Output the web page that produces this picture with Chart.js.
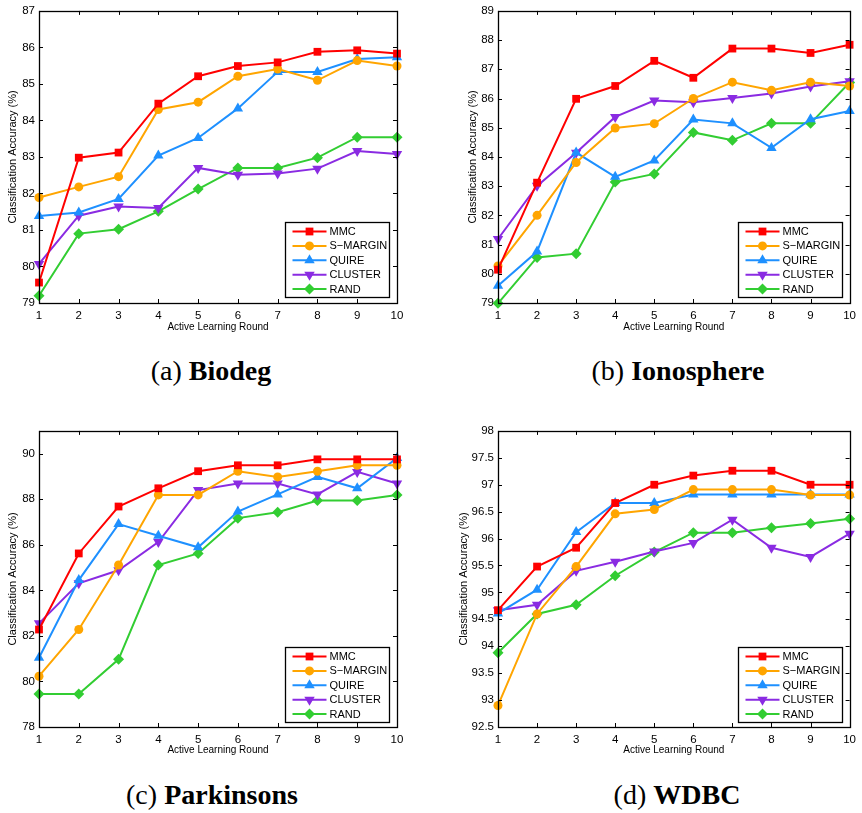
<!DOCTYPE html>
<html>
<head>
<meta charset="utf-8">
<script src="https://cdn.jsdelivr.net/npm/chart.js"></script>
<style>
body { margin:0; background:#fff; width:862px; height:813px; position:relative; overflow:hidden; }
.panel { position:absolute; }
.cap { position:absolute; width:300px; font-family:"Liberation Serif", serif; font-size:28px; line-height:32px; color:#000; text-align:center; white-space:nowrap; }
</style>
</head>
<body>
<div class="panel" style="left:0px;top:0px;width:431px;height:340px"><canvas id="biodeg"></canvas></div>
<div class="panel" style="left:460px;top:0px;width:402px;height:340px"><canvas id="ionosphere"></canvas></div>
<div class="panel" style="left:0px;top:420px;width:431px;height:345px"><canvas id="parkinsons"></canvas></div>
<div class="panel" style="left:450px;top:420px;width:412px;height:345px"><canvas id="wdbc"></canvas></div>

<div class="cap" style="left:61px;top:355px">(a) <b>Biodeg</b></div>
<div class="cap" style="left:528px;top:355px">(b) <b>Ionosphere</b></div>
<div class="cap" style="left:62px;top:779px">(c) <b>Parkinsons</b></div>
<div class="cap" style="left:527px;top:779px">(d) <b>WDBC</b></div>

<script>
const rounds = ['1', '2', '3', '4', '5', '6', '7', '8', '9', '10'];
const methods = ['MMC', 'S\u2212MARGIN', 'QUIRE', 'CLUSTER', 'RAND'];

// (a) Biodeg
const biodegMMC     = [79.56, 82.98, 83.12, 84.46, 85.21, 85.49, 85.59, 85.88, 85.92, 85.83];
const biodegSMargin = [81.89, 82.18, 82.46, 84.30, 84.50, 85.21, 85.41, 85.10, 85.64, 85.49];
const biodegQuire   = [81.38, 81.48, 81.85, 83.04, 83.52, 84.33, 85.33, 85.33, 85.68, 85.73];
const biodegCluster = [80.07, 81.39, 81.64, 81.60, 82.70, 82.51, 82.55, 82.68, 83.16, 83.08];
const biodegRand    = [79.20, 80.90, 81.02, 81.51, 82.12, 82.70, 82.70, 82.98, 83.54, 83.54];
const biodegTicks   = [79, 80, 81, 82, 83, 84, 85, 86, 87];

// (b) Ionosphere
const ionoMMC     = [80.14, 83.12, 85.99, 86.43, 87.29, 86.71, 87.71, 87.71, 87.56, 87.84];
const ionoSMargin = [80.27, 82.00, 83.81, 84.99, 85.14, 86.00, 86.56, 86.28, 86.56, 86.43];
const ionoQuire   = [79.59, 80.76, 84.15, 83.32, 83.88, 85.28, 85.15, 84.31, 85.29, 85.57];
const ionoCluster = [81.19, 83.01, 84.14, 85.37, 85.93, 85.87, 86.02, 86.17, 86.41, 86.59];
const ionoRand    = [78.99, 80.56, 80.69, 83.14, 83.42, 84.84, 84.57, 85.15, 85.15, 86.55];
const ionoTicks   = [79, 80, 81, 82, 83, 84, 85, 86, 87, 88, 89];

// (c) Parkinsons
const parkMMC     = [82.28, 85.62, 87.68, 88.48, 89.23, 89.49, 89.49, 89.75, 89.75, 89.75];
const parkSMargin = [80.23, 82.28, 85.11, 88.19, 88.19, 89.23, 88.98, 89.23, 89.49, 89.49];
const parkQuire   = [81.04, 84.45, 86.91, 86.40, 85.89, 87.46, 88.21, 88.98, 88.48, 89.81];
const parkCluster = [82.55, 84.31, 84.88, 86.12, 88.40, 88.69, 88.69, 88.21, 89.20, 88.69];
const parkRand    = [79.45, 79.45, 80.97, 85.11, 85.62, 87.17, 87.43, 87.94, 87.94, 88.19];
const parkTicks   = [78, 80, 82, 84, 86, 88, 90];

// (d) WDBC
const wdbcMMC     = [94.67, 95.48, 95.83, 96.66, 97.00, 97.17, 97.26, 97.26, 97.00, 97.00];
const wdbcSMargin = [92.90, 94.60, 95.48, 96.46, 96.54, 96.91, 96.91, 96.91, 96.81, 96.81];
const wdbcQuire   = [94.61, 95.05, 96.12, 96.66, 96.66, 96.82, 96.82, 96.82, 96.82, 96.82];
const wdbcCluster = [94.67, 94.77, 95.40, 95.57, 95.76, 95.92, 96.35, 95.83, 95.66, 96.09];
const wdbcRand    = [93.88, 94.60, 94.77, 95.31, 95.75, 96.11, 96.11, 96.20, 96.28, 96.37];
const wdbcTicks   = [92.5, 93, 93.5, 94, 94.5, 95, 95.5, 96, 96.5, 97, 97.5, 98];

const colors = ['#ff0000', '#ffa500', '#1e90ff', '#8a2be2', '#32cd32'];
const styles = [
    {pointStyle: 'rect', radius: 5.5, rotation: 0},
    {pointStyle: 'circle', radius: 4.5, rotation: 0},
    {pointStyle: 'triangle', radius: 6, rotation: 0},
    {pointStyle: 'triangle', radius: 6, rotation: 180},
    {pointStyle: 'rectRot', radius: 5.5, rotation: 0}
];

const sansFont = '"Liberation Sans", Arial, sans-serif';

// draw a marker like the ones chart.js uses
function drawMarker(ctx, st, x, y) {
    let r = st.radius;
    ctx.beginPath();
    if (st.pointStyle == 'rect') {
        let s = r * Math.SQRT1_2;
        ctx.rect(x - s, y - s, 2 * s, 2 * s);
    } else if (st.pointStyle == 'circle') {
        ctx.arc(x, y, r, 0, Math.PI * 2);
    } else if (st.pointStyle == 'triangle') {
        let a = st.rotation * Math.PI / 180;
        for (let k = 0; k < 3; k++) {
            let px = x + Math.sin(a) * r;
            let py = y - Math.cos(a) * r;
            if (k == 0) ctx.moveTo(px, py); else ctx.lineTo(px, py);
            a += Math.PI * 2 / 3;
        }
        ctx.closePath();
    } else {
        ctx.moveTo(x, y - r);
        ctx.lineTo(x + r, y);
        ctx.lineTo(x, y + r);
        ctx.lineTo(x - r, y);
        ctx.closePath();
    }
    ctx.fill();
}

// box round the plot with inward ticks, matlab style
const framePlugin = {
    id: 'frame',
    afterDatasetsDraw(chart) {
        const ctx = chart.ctx;
        const a = chart.chartArea;
        const xs = chart.scales.x;
        const ys = chart.scales.y;
        const tl = 4;
        ctx.save();
        ctx.strokeStyle = '#000';
        ctx.lineWidth = 1;
        ctx.beginPath();
        xs.ticks.forEach(function (t, i) {
            let px = Math.round(xs.getPixelForTick(i)) + 0.5;
            ctx.moveTo(px, a.bottom); ctx.lineTo(px, a.bottom - tl);
            ctx.moveTo(px, a.top); ctx.lineTo(px, a.top + tl);
        });
        ys.ticks.forEach(function (t) {
            let py = Math.round(ys.getPixelForValue(t.value)) + 0.5;
            ctx.moveTo(a.left, py); ctx.lineTo(a.left + tl, py);
            ctx.moveTo(a.right, py); ctx.lineTo(a.right - tl, py);
        });
        ctx.stroke();
        ctx.lineWidth = 1.3;
        ctx.strokeRect(Math.round(a.left) + 0.5, Math.round(a.top) + 0.5,
            Math.round(a.right - a.left), Math.round(a.bottom - a.top));
        ctx.restore();
    },
    afterDraw(chart) {
        // legend box in the lower right corner
        const ctx = chart.ctx;
        const a = chart.chartArea;
        const w = 104, rowH = 14.4;
        const h = 75;
        const bx = Math.round(a.right - 8 - w) + 0.5;
        const by = Math.round(a.bottom - chart.options.legendInset - h) + 0.5;
        ctx.save();
        ctx.fillStyle = '#fff';
        ctx.fillRect(bx, by, w, h);
        ctx.strokeStyle = '#000';
        ctx.lineWidth = 1.3;
        ctx.strokeRect(bx, by, w, h);
        ctx.font = '11px ' + sansFont;
        ctx.textBaseline = 'middle';
        chart.data.datasets.forEach(function (ds, i) {
            let y = by + 9 + i * rowH;
            ctx.strokeStyle = ds.borderColor;
            ctx.lineWidth = 2;
            ctx.beginPath();
            ctx.moveTo(bx + 7, y);
            ctx.lineTo(bx + 41, y);
            ctx.stroke();
            ctx.fillStyle = ds.borderColor;
            drawMarker(ctx, styles[i], bx + 24, y);
            ctx.fillStyle = '#000';
            ctx.fillText(ds.label, bx + 44, y + 0.5);
        });
        ctx.restore();
    }
};

function makeChart(id, series, ticks, yMin, yMax, yWidth, xHeight, padTop, padRight, titlePad, xTitlePad, legendInset) {
    let datasets = series.map(function (vals, i) {
        return {
            label: methods[i],
            data: vals,
            borderColor: colors[i],
            backgroundColor: colors[i],
            borderWidth: 2,
            pointStyle: styles[i].pointStyle,
            pointRadius: styles[i].radius,
            pointRotation: styles[i].rotation,
            pointBorderWidth: 0,
            pointHoverRadius: styles[i].radius,
            tension: 0,
            clip: false
        };
    });
    return new Chart(document.getElementById(id), {
        type: 'line',
        data: {labels: rounds, datasets: datasets},
        options: {
            responsive: true,
            maintainAspectRatio: false,
            animation: false,
            legendInset: legendInset,
            layout: {padding: {top: padTop, right: padRight, left: 0, bottom: 0}},
            plugins: {legend: {display: false}, tooltip: {enabled: false}},
            scales: {
                x: {
                    type: 'category',
                    offset: false,
                    grid: {display: false, drawTicks: false},
                    border: {display: false},
                    ticks: {color: '#000', padding: 6, maxRotation: 0, autoSkip: false,
                        font: {family: sansFont, size: 11.5}},
                    title: {display: true, text: 'Active Learning Round', color: '#000',
                        padding: {top: 0, bottom: xTitlePad}, font: {family: sansFont, size: 10}},
                    afterFit: function (s) { s.height = xHeight; }
                },
                y: {
                    min: yMin,
                    max: yMax,
                    grid: {display: false, drawTicks: false},
                    border: {display: false},
                    afterBuildTicks: function (s) {
                        s.ticks = ticks.map(function (v) { return {value: v}; });
                    },
                    ticks: {color: '#000', padding: 4, font: {family: sansFont, size: 11.5},
                        callback: function (v) { return String(v); }},
                    title: {display: true, text: 'Classification Accuracy (%)', color: '#000',
                        padding: {top: titlePad, bottom: 0}, font: {family: sansFont, size: 11}},
                    afterFit: function (s) { s.width = yWidth; }
                }
            }
        },
        plugins: [framePlugin]
    });
}

makeChart('biodeg', [biodegMMC, biodegSMargin, biodegQuire, biodegCluster, biodegRand],
    biodegTicks, 79, 87, 39, 37, 4, 34, 6, 7, 6);
makeChart('ionosphere', [ionoMMC, ionoSMargin, ionoQuire, ionoCluster, ionoRand],
    ionoTicks, 79, 89, 38, 37, 4, 6, 6, 7, 6);
makeChart('parkinsons', [parkMMC, parkSMargin, parkQuire, parkCluster, parkRand],
    parkTicks, 78, 91, 39, 38, 9, 34, 6, 9, 5);
makeChart('wdbc', [wdbcMMC, wdbcSMargin, wdbcQuire, wdbcCluster, wdbcRand],
    wdbcTicks, 92.5, 98, 48, 38, 9, 6, 7, 9, 5);
</script>
</body>
</html>
